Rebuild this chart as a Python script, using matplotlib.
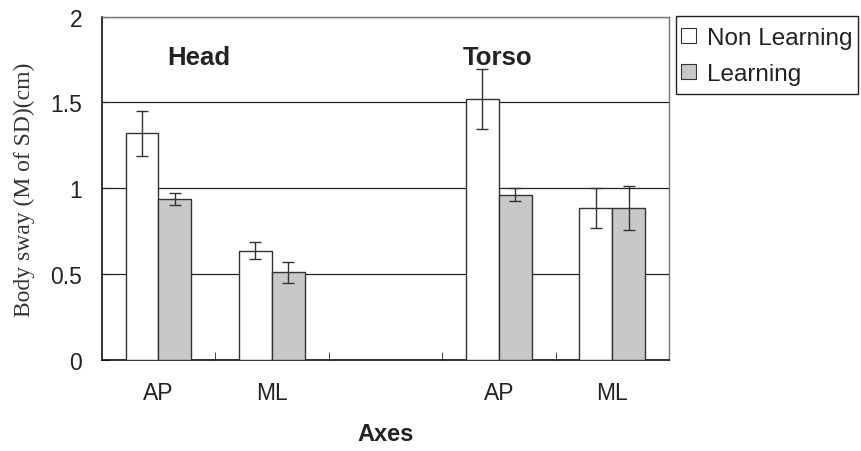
import numpy as np
import matplotlib.pyplot as plt
from matplotlib.patches import Patch, Rectangle

# body sway per axis, Head (AP, ML) then Torso (AP, ML); empty slot in between
categories = ["AP", "ML", "", "AP", "ML"]
non_learning = [1.32, 0.637, np.nan, 1.52, 0.885]
non_learning_err = [0.13, 0.048, np.nan, 0.175, 0.115]
learning = [0.937, 0.51, np.nan, 0.963, 0.885]
learning_err = [0.036, 0.062, np.nan, 0.038, 0.127]

plt.rcParams['font.family'] = ['Liberation Sans', 'DejaVu Sans']

fig = plt.figure(figsize=(8.61, 4.52), dpi=100)
ax = fig.add_axes([0.1181, 0.2013, 0.777 - 0.1181, 0.961 - 0.2013])

x = np.arange(len(categories))
w = 0.29
ekw = dict(ecolor='#333333', elinewidth=1.0, capsize=4.5, capthick=1.0)
ax.bar(x - w / 2, non_learning, w, yerr=non_learning_err, color='white',
       edgecolor='#333333', linewidth=1.0, error_kw=ekw, zorder=3)
ax.bar(x + w / 2, learning, w, yerr=learning_err, color='#c8c8c8',
       edgecolor='#333333', linewidth=1.0, error_kw=ekw, zorder=3)

ax.set_xlim(-0.5, len(categories) - 0.5)
ax.set_ylim(0, 2)
ax.set_yticks([0, 0.5, 1, 1.5, 2])
ax.set_yticklabels(["0", "0.5", "1", "1.5", "2"], fontsize=16.5, color='#222222')
ax.set_xticks(x)
ax.set_xticklabels(categories, fontsize=16.5, color='#222222')
ax.set_xticks(x[:-1] + 0.5, minor=True)
ax.tick_params(axis='x', which='major', length=0, pad=15)
ax.tick_params(axis='x', which='minor', direction='in', length=6, color='#222222')
ax.tick_params(axis='y', direction='in', length=5, pad=14, color='#222222')

ax.grid(axis='y', color='#222222', linewidth=0.9, zorder=0)
ax.set_axisbelow(True)
for side in ['left', 'bottom']:
    ax.spines[side].set_color('#111111')
    ax.spines[side].set_linewidth(1.2)
for side in ['top', 'right']:
    ax.spines[side].set_color('#777777')
    ax.spines[side].set_linewidth(1.0)

ax.set_ylabel("Body sway (M of SD)(cm)", family=['Liberation Serif', 'DejaVu Serif'],
              fontsize=17, color='#333333', labelpad=11)
ax.set_xlabel("Axes", fontsize=17, fontweight='bold', color='#222222', labelpad=13)

ax.text(0.36, 1.723, "Head", fontsize=18.5, fontweight='bold', color='#222222',
        ha='center', va='baseline')
ax.text(2.99, 1.723, "Torso", fontsize=18.5, fontweight='bold', color='#222222',
        ha='center', va='baseline')

# legend box drawn separately so the padding can be taller than it is wide
fig.patches.append(Rectangle((676 / 861, 1 - 95 / 452), 182 / 861, 78 / 452,
                             transform=fig.transFigure, facecolor='white',
                             edgecolor='#222222', linewidth=1.0))
handles = [Patch(facecolor='white', edgecolor='#333333', linewidth=0.8),
           Patch(facecolor='#c8c8c8', edgecolor='#333333', linewidth=0.8)]
leg = fig.legend(handles, ["Non Learning", "Learning"], loc='upper left',
                 bbox_to_anchor=(681 / 861, 1 - 28 / 452), fontsize=17.5,
                 frameon=False, handlelength=0.6, handleheight=0.6,
                 handletextpad=0.45, borderpad=0, labelspacing=0.57,
                 borderaxespad=0)
for t in leg.get_texts():
    t.set_color('#222222')

fig.savefig("out.png", dpi=100)
